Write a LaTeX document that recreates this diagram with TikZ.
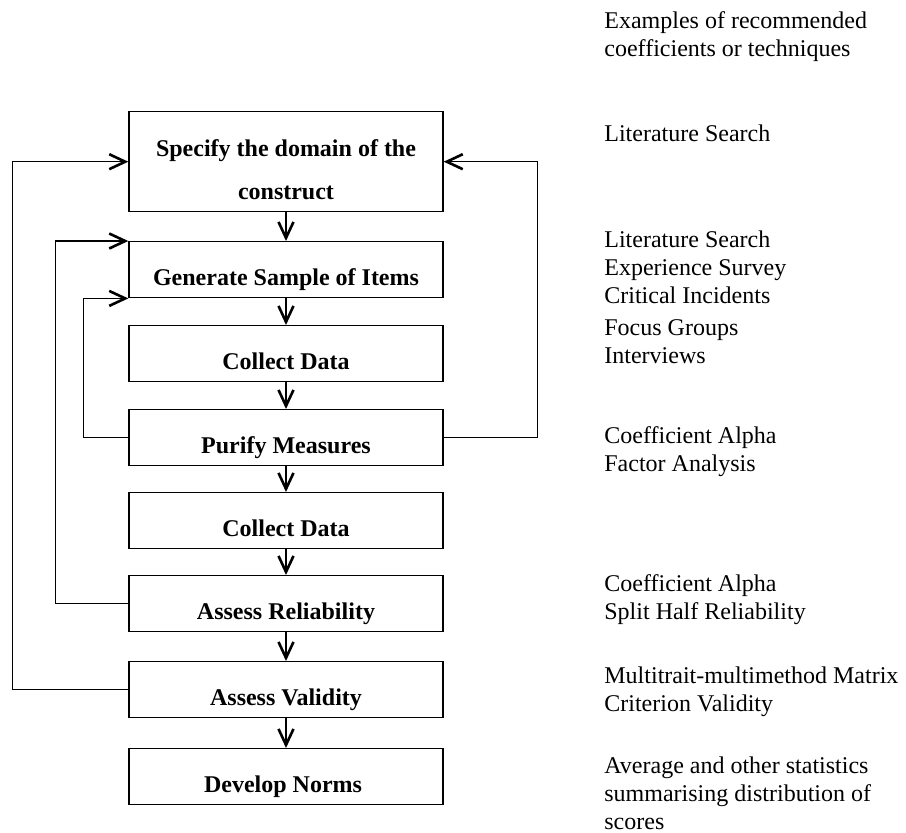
\documentclass[tikz,border=0pt]{standalone}
\usepackage{fontspec}
\setmainfont{Liberation Serif}
\usetikzlibrary{arrows.meta}

\tikzset{
    stepbox/.style={draw, line width=0.7pt, minimum width=157pt, inner xsep=2pt,
        inner ysep=0pt, text height=22pt, text depth=6pt, align=center,
        font=\bfseries\fontsize{12}{14}\selectfont},
    flow/.style={line width=0.6pt,
        -{Straight Barb[length=8pt, width=7.5pt, line width=1.3pt]}},
    note/.style={anchor=base west, inner sep=0pt, align=left,
        font=\fontsize{12}{14}\selectfont}
}

\begin{document}
\begin{tikzpicture}[x=0.5pt, y=-0.5pt]
    \useasboundingbox (0,0) rectangle (906,832);

    % Steps of the procedure
    \node[stepbox, anchor=north, text height=44pt,
          font=\bfseries\fontsize{12}{21.5}\selectfont] (dom) at (286,111)
          {Specify the domain of the\\construct};
    \foreach \name/\top/\txt in {
        gen/241/Generate Sample of Items,
        col1/325/Collect Data,
        pur/409/Purify Measures,
        col2/492/Collect Data,
        rel/575/Assess Reliability,
        val/661/Assess Validity,
        norm/748/Develop Norms
    } {
        \node[stepbox, anchor=north] (\name) at (286,\top) {\txt};
    }

    % Main flow
    \foreach \a/\b in {dom/gen, gen/col1, col1/pur, pur/col2, col2/rel, rel/val, val/norm} {
        \draw[flow] (\a.south) -- (\b.north);
    }

    % Feedback loops
    \draw[flow] (pur.west) -- ++(-45,0) |- (gen.south west);
    \draw[flow] (rel.west) -- ++(-73,0) |- (gen.north west);
    \draw[flow] (val.west) -- ++(-116,0) |- (dom.west);
    \draw[flow] (pur.east) -- ++(94,0) |- (dom.east);

    % Coefficients or techniques (anchored on the last line)
    \node[note] (thead) at (604,56) {Examples of recommended\\coefficients or techniques};
    \node[note] (tdom) at (604,141) {Literature Search};
    \node[note] (tgen) at (604,363) {Literature Search\\Experience Survey\\Critical Incidents\\[2pt]Focus Groups\\Interviews};
    \node[note] (tpur) at (604,471) {Coefficient Alpha\\Factor Analysis};
    \node[note] (trel) at (604,619) {Coefficient Alpha\\Split Half Reliability};
    \node[note] (tval) at (604,711) {Multitrait-multimethod Matrix\\Criterion Validity};
    \node[note] (tnorm) at (604,829) {Average and other statistics\\summarising distribution of\\scores};
\end{tikzpicture}
\end{document}
